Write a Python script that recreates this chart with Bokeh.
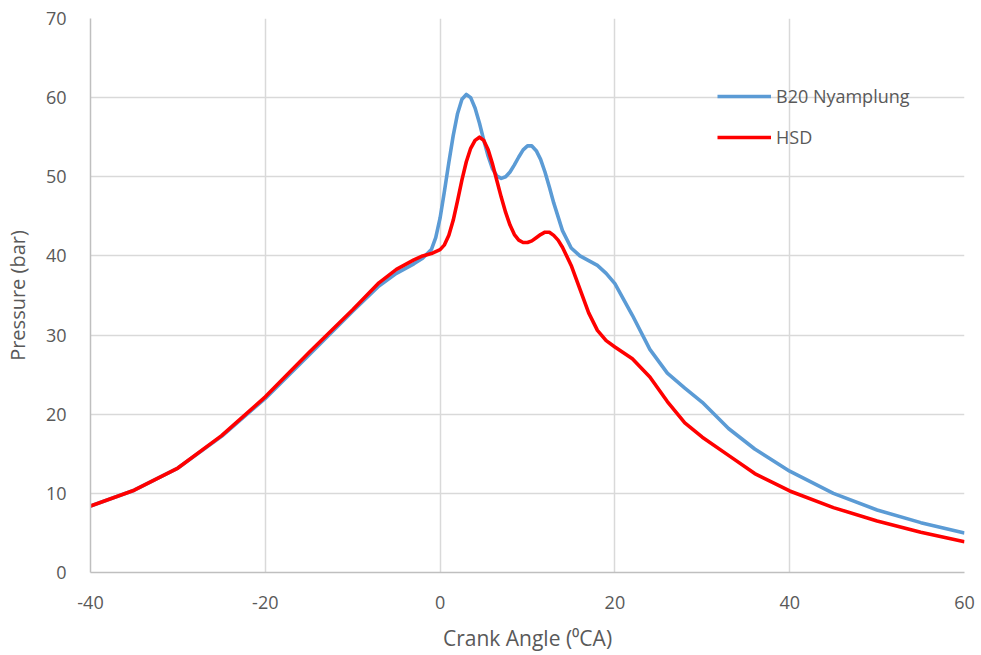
from bokeh.plotting import figure
from bokeh.models import Range1d, FixedTicker, Legend, LegendItem
from bokeh.embed import file_html
from bokeh.resources import INLINE

# Crank angle (degrees) and pressure (bar)
angle_b20 = [-40, -35, -30, -25, -20, -15, -10, -7, -5, -3, -2, -1, -0.5, 0, 0.5, 1, 1.5, 2, 2.5, 3, 3.5, 4,
             4.5, 5, 5.5, 6, 6.5, 7, 7.5, 8, 8.5, 9, 9.5, 10, 10.5, 11, 11.5, 12, 12.5, 13, 14, 15, 16, 17,
             18, 19, 20, 22, 24, 26, 28, 30, 33, 36, 40, 45, 50, 55, 60]
pressure_b20 = [8.4, 10.4, 13.2, 17.2, 22.0, 27.5, 33.0, 36.2, 37.8, 39.0, 39.7, 40.8, 42.3, 44.8, 48.2,
                51.8, 55.2, 58.0, 59.8, 60.4, 60.0, 58.7, 56.8, 54.6, 52.6, 51.0, 50.1, 49.8, 50.0, 50.6,
                51.5, 52.5, 53.4, 53.9, 53.9, 53.3, 52.2, 50.6, 48.7, 46.7, 43.2, 41.0, 40.0, 39.4, 38.8,
                37.8, 36.5, 32.5, 28.2, 25.2, 23.3, 21.5, 18.2, 15.6, 12.8, 10.0, 7.9, 6.3, 5.0]

angle_hsd = [-40, -35, -30, -25, -20, -15, -10, -7, -5, -3, -2, -1, 0, 0.5, 1, 1.5, 2, 2.5, 3, 3.5, 4,
             4.5, 5, 5.5, 6, 6.5, 7, 7.5, 8, 8.5, 9, 9.5, 10, 10.5, 11, 11.5, 12, 12.5, 13, 13.5, 14, 15,
             16, 17, 18, 19, 20, 22, 24, 26, 28, 30, 33, 36, 40, 45, 50, 55, 60]
pressure_hsd = [8.4, 10.4, 13.2, 17.3, 22.2, 27.8, 33.2, 36.6, 38.3, 39.5, 40.0, 40.3, 40.8, 41.4, 42.6,
                44.5, 47.0, 49.6, 51.9, 53.6, 54.6, 55.0, 54.6, 53.4, 51.6, 49.5, 47.4, 45.5, 43.9, 42.7,
                42.0, 41.7, 41.7, 41.9, 42.3, 42.7, 43.0, 43.0, 42.6, 42.0, 41.1, 38.8, 35.8, 32.8, 30.6,
                29.3, 28.5, 27.0, 24.7, 21.6, 18.9, 17.1, 14.8, 12.5, 10.3, 8.2, 6.5, 5.1, 3.9]

x_ticks = [-40, -20, 0, 20, 40, 60]
y_ticks = [0, 10, 20, 30, 40, 50, 60, 70]
series_names = ["B20 Nyamplung", "HSD"]

FONT = "Open Sans"
TXT = "#595959"

p = figure(width=981, height=655, output_backend="svg", toolbar_location=None,
           x_range=Range1d(-40, 60), y_range=Range1d(0, 70),
           min_border_left=89, min_border_right=17, min_border_top=18, min_border_bottom=83)
p.outline_line_color = None
p.background_fill_color = "white"
p.border_fill_color = "white"

p.xaxis.ticker = FixedTicker(ticks=x_ticks)
p.yaxis.ticker = FixedTicker(ticks=y_ticks)
p.xaxis.major_label_overrides = {t: str(t) for t in x_ticks}
p.yaxis.major_label_overrides = {t: str(t) for t in y_ticks}
for ax in (p.xaxis[0], p.yaxis[0]):
    ax.major_tick_line_color = None
    ax.minor_tick_line_color = None
    ax.axis_line_color = "#bfbfbf"
    ax.axis_line_width = 1.5
    ax.major_label_text_font = FONT
    ax.major_label_text_font_size = "18px"
    ax.major_label_text_color = TXT
    ax.axis_label_text_font = FONT
    ax.axis_label_text_color = TXT
    ax.axis_label_text_font_style = "normal"

p.xaxis.axis_label = "Crank Angle (\u2070CA)"
p.yaxis.axis_label = "Pressure (bar)"
p.xaxis.axis_label_text_font_size = "21px"
p.yaxis.axis_label_text_font_size = "20px"
p.xaxis.major_label_standoff = 17
p.yaxis.major_label_standoff = 18
p.xaxis.axis_label_standoff = 12
p.yaxis.axis_label_standoff = 12

p.xgrid.grid_line_color = "#d9d9d9"
p.ygrid.grid_line_color = "#d9d9d9"
p.xgrid.grid_line_width = 1.5
p.ygrid.grid_line_width = 1.5

r1 = p.line(angle_b20, pressure_b20, line_color="#5b9bd5", line_width=3.6, line_join="round")
r2 = p.line(angle_hsd, pressure_hsd, line_color="#ff0000", line_width=3.6, line_join="round")

legend = Legend(items=[LegendItem(label=series_names[0], renderers=[r1]),
                       LegendItem(label=series_names[1], renderers=[r2])],
                location=(627, 423), border_line_color=None, background_fill_alpha=0,
                label_text_font=FONT, label_text_font_size="18px", label_text_color=TXT,
                glyph_width=54, spacing=17, label_standoff=5)
p.add_layout(legend, "center")

open("out.html", "w").write(file_html(p, INLINE))
